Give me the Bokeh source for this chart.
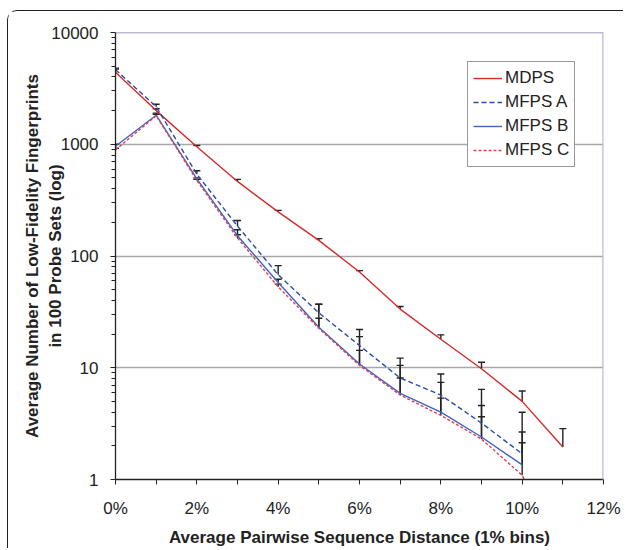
from bokeh.plotting import figure
from bokeh.models import FixedTicker, Legend, LegendItem, Span
from bokeh.embed import file_html
from bokeh.resources import INLINE

# ---- data ----
x_pct = [0, 1, 2, 3, 4, 5, 6, 7, 8, 9, 10, 11]
mdps = [4400, 2000, 950, 465, 248, 138, 72, 33.5, 18, 9.8, 5.0, 1.95]
mdps_up = [4700, 2080, 975, 485, 256, 143, 74, 35.3, 19.7, 11.2, 6.2, 2.85]
mfps_a = [4650, 2170, 540, 185, 68, 31, 15.8, 8.1, 5.7, 3.2, 1.7]
mfps_a_up = [4800, 2280, 580, 208, 82, 37, 22, 12.2, 8.8, 6.4, 4.0]
mfps_b = [960, 1820, 490, 152, 58, 23, 10.8, 5.9, 4.0, 2.4, 1.35]
mfps_b_up = [1000, 1900, 500, 172, 62, 37, 19, 10.5, 7.4, 4.6, 2.66]
mfps_c = [890, 1800, 475, 145, 53, 22.5, 10.5, 5.7, 3.75, 2.3, 1.09, 0.2]
mfps_c_up = [920, 1850, 485, 155, 56, 27.7, 14.3, 8.1, 5.35, 3.64, 2.13]

x_ticks = [0, 2, 4, 6, 8, 10, 12]
x_tick_labels = ["0%", "2%", "4%", "6%", "8%", "10%", "12%"]
x_minor = [1, 3, 5, 7, 9, 11]
y_ticks = [1, 10, 100, 1000, 10000]
y_tick_labels = ["1", "10", "100", "1000", "10000"]

series_names = ["MDPS", "MFPS A", "MFPS B", "MFPS C"]
series_colors = ["#d42a2a", "#2a4aa8", "#4062c0", "#e04050"]
series_dash = ["solid", "5 3", "solid", "3 2"]

FONT = "Liberation Sans"

p = figure(width=616, height=538, output_backend="svg", toolbar_location=None,
           y_axis_type="log", x_range=(0, 12), y_range=(1, 10000),
           min_border_left=107, min_border_right=21, min_border_top=21,
           min_border_bottom=64, outline_line_color=None,
           background_fill_color="white", border_fill_color="white")
p.styles = {"margin-left": "7px", "margin-top": "10px",
            "border-left": "1.5px solid #222222", "border-top": "1.5px solid #222222",
            "border-top-left-radius": "10px"}

# grid
p.xgrid.visible = False
p.ygrid.ticker = FixedTicker(ticks=y_ticks)
p.ygrid.grid_line_color = "#a8a8a8"
p.ygrid.grid_line_width = 1.5

# frame top / right edges
p.add_layout(Span(location=10000, dimension="width", line_color="#7d6fa0", line_width=1.5))
p.add_layout(Span(location=12, dimension="height", line_color="#c3b3dc", line_width=2.5))

# error bars (upper only)
def err(xs, ys, ups):
    n = len(ups)
    p.segment(x0=xs[:n], y0=ys[:n], x1=xs[:n], y1=ups, line_color="#222222", line_width=1.4)
    p.scatter(x=xs[:n], y=ups, marker="dash", size=7, line_color="#222222", line_width=1.4)

err(x_pct, mdps, mdps_up)
err(x_pct, mfps_a, mfps_a_up)
err(x_pct, mfps_b, mfps_b_up)
err(x_pct, mfps_c, mfps_c_up)

renderers = []
for name, ys, col, dash in zip(series_names, [mdps, mfps_a, mfps_b, mfps_c],
                               series_colors, series_dash):
    r = p.line(x_pct[:len(ys)], ys, line_color=col, line_width=1.4, line_dash=dash)
    renderers.append(r)

# axes
for ax in (p.xaxis[0], p.yaxis[0]):
    ax.axis_line_color = "#222222"
    ax.axis_line_width = 1.3
    ax.major_tick_line_color = "#222222"
    ax.minor_tick_line_color = "#222222"
    ax.major_tick_in = 0
    ax.minor_tick_in = 0
    ax.major_tick_out = 5
    ax.minor_tick_out = 4
    ax.major_label_text_font = FONT
    ax.major_label_text_font_size = "17px"
    ax.major_label_text_color = "#222222"
    ax.axis_label_text_font = FONT
    ax.axis_label_text_font_size = "17px"
    ax.axis_label_text_font_style = "bold"
    ax.axis_label_text_color = "#222222"

p.xaxis.ticker = FixedTicker(ticks=x_ticks, minor_ticks=x_minor)
p.xaxis.major_label_overrides = dict(zip(x_ticks, x_tick_labels))
p.xaxis.minor_tick_out = 5
p.xaxis.major_label_standoff = 14
p.xaxis.axis_label = "Average Pairwise Sequence Distance (1% bins)"
p.xaxis.axis_label_standoff = 7

y_minor = [m * 10 ** k for k in range(4) for m in range(2, 10)]
p.yaxis.ticker = FixedTicker(ticks=y_ticks, minor_ticks=y_minor)
p.yaxis.major_label_overrides = dict(zip(y_ticks, y_tick_labels))
p.yaxis.major_label_standoff = 12
p.yaxis.axis_label = "Average Number of Low-Fidelity Fingerprints\nin 100 Probe Sets (log)"
p.yaxis.axis_label_standoff = -17

legend = Legend(items=[LegendItem(label=n, renderers=[r]) for n, r in zip(series_names, renderers)],
                location=(352, 312), label_text_font=FONT, label_text_font_size="17px",
                label_text_color="#222222", glyph_width=29, glyph_height=22,
                label_height=22, spacing=2, padding=5, margin=0, label_standoff=3,
                border_line_color="#333333", border_line_width=1,
                background_fill_color="white", background_fill_alpha=1)
p.add_layout(legend, "center")

open("out.html", "w").write(file_html(p, INLINE))
